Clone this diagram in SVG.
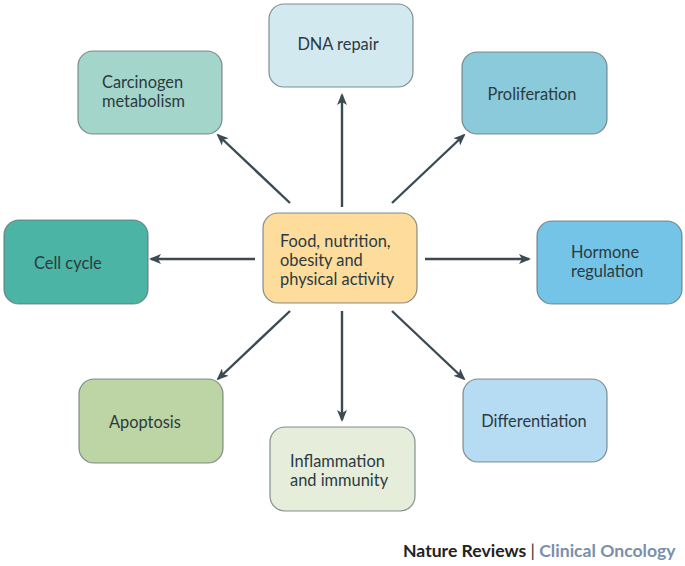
<svg xmlns="http://www.w3.org/2000/svg" width="685" height="566" viewBox="0 0 685 566">
<style>
.box{stroke:#5f6b6e;stroke-opacity:0.75;stroke-width:1.2}
.t{font-family:Lato,"Open Sans","Liberation Sans",sans-serif;font-size:16.4px;fill:#2b3a40}
.c{stroke:#3b4a53;stroke-width:2.4;fill:none;marker-end:url(#ah)}
</style>
<defs>
<marker id="ah" viewBox="0 0 12 10" refX="10" refY="5" markerWidth="12" markerHeight="10" markerUnits="userSpaceOnUse" orient="auto">
<path d="M0,0 L12,5 L0,10 L3,5 z" fill="#3b4a53"/>
</marker>
</defs>
<rect width="685" height="566" fill="#ffffff"/>
<g id="connectors">
<line class="c" x1="342" y1="207" x2="342" y2="95"/>
<line class="c" x1="290" y1="203" x2="218" y2="135"/>
<line class="c" x1="392" y1="203" x2="464" y2="135"/>
<line class="c" x1="255" y1="259" x2="151" y2="259"/>
<line class="c" x1="425" y1="259" x2="529" y2="259"/>
<line class="c" x1="290" y1="311" x2="218" y2="379"/>
<line class="c" x1="342" y1="311" x2="342" y2="420"/>
<line class="c" x1="392" y1="311" x2="464" y2="379"/>
</g>
<g id="center">
<rect class="box" x="263" y="213" width="154" height="90" rx="15" fill="#fddc9c" stroke="#a88a5a"/>
<text class="t" x="280" y="246.5">Food, nutrition,</text>
<text class="t" x="280" y="265.5">obesity and</text>
<text class="t" x="280" y="284.5">physical activity</text>
</g>
<g id="dna-repair">
<rect class="box" x="269" y="4" width="144" height="83" rx="15" fill="#d2e9f0"/>
<text class="t" x="338" y="50" text-anchor="middle">DNA repair</text>
</g>
<g id="carcinogen">
<rect class="box" x="78" y="51" width="144" height="83" rx="15" fill="#a3d5cb"/>
<text class="t" x="102" y="87.5">Carcinogen</text>
<text class="t" x="102" y="106.5">metabolism</text>
</g>
<g id="proliferation">
<rect class="box" x="462" y="52" width="145" height="82" rx="15" fill="#8bcadb"/>
<text class="t" x="532" y="100" text-anchor="middle">Proliferation</text>
</g>
<g id="cell-cycle">
<rect class="box" x="4" y="220" width="144" height="84" rx="15" fill="#4bb4a4"/>
<text class="t" x="34" y="269">Cell cycle</text>
</g>
<g id="hormone">
<rect class="box" x="537" y="221" width="145" height="83" rx="15" fill="#74c4e8"/>
<text class="t" x="571" y="258">Hormone</text>
<text class="t" x="571" y="277">regulation</text>
</g>
<g id="apoptosis">
<rect class="box" x="79" y="379" width="144" height="84" rx="15" fill="#bdd5a5"/>
<text class="t" x="109" y="428">Apoptosis</text>
</g>
<g id="inflammation">
<rect class="box" x="270" y="427" width="145" height="84" rx="15" fill="#e6eedb"/>
<text class="t" x="290" y="466.5">Inflammation</text>
<text class="t" x="290" y="485.5">and immunity</text>
</g>
<g id="differentiation">
<rect class="box" x="463" y="379" width="144" height="83" rx="15" fill="#b6dcf3"/>
<text class="t" x="534" y="427" text-anchor="middle">Differentiation</text>
</g>
<g id="footer">
<text x="403" y="557" font-family="Lato,'Open Sans','Liberation Sans',sans-serif" font-size="17.6px" font-weight="bold" fill="#222222">Nature Reviews <tspan font-weight="normal" fill="#333333">|</tspan> <tspan fill="#7a8fab">Clinical Oncology</tspan></text>
</g>
</svg>
